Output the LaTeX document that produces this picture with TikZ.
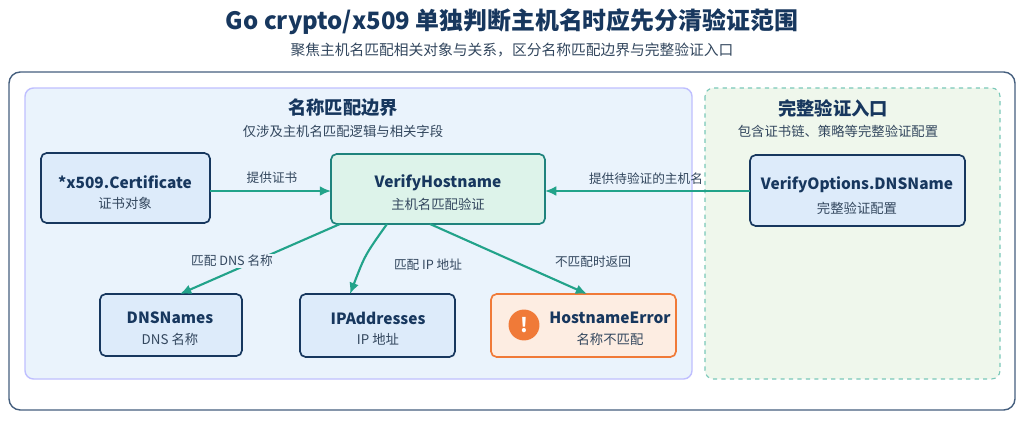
\documentclass[tikz,border=0pt]{standalone}
\usepackage{fontspec}
\setmainfont{Noto Sans CJK SC}
\usetikzlibrary{arrows.meta}
\definecolor{navy}{HTML}{17375E}
\definecolor{teal}{HTML}{22A38A}
\definecolor{panelblue}{HTML}{EAF3FC}
\definecolor{boxblue}{HTML}{DDEBFA}
\definecolor{boxgreen}{HTML}{DDF3EA}
\definecolor{panelgreen}{HTML}{EFF7EC}
\definecolor{orng}{HTML}{F07A38}
\definecolor{boxorng}{HTML}{FDEDE2}
\definecolor{txt}{HTML}{33475E}
\begin{document}
\begin{tikzpicture}[x=0.025cm,y=-0.025cm,
    box/.style={draw=navy,line width=1.2pt,rounded corners=4pt,fill=boxblue},
    flow/.style={-{Latex[length=8pt,width=7pt]},draw=teal,line width=1.5pt},
    lbl/.style={font=\fontsize{9}{11}\selectfont,text=txt},
    main/.style={font=\fontsize{11}{13}\selectfont\bfseries,text=navy},
    sub/.style={font=\fontsize{9.5}{11}\selectfont,text=txt}]
  \useasboundingbox (0,0) rectangle (1024,427);
  % title
  \node[font=\fontsize{17}{20}\selectfont\bfseries,text=navy] (title) at (512,22) {Go crypto/x509 单独判断主机名时应先分清验证范围};
  \node[font=\fontsize{10.5}{12}\selectfont,text=txt] (subtitle) at (512,50) {聚焦主机名匹配相关对象与关系，区分名称匹配边界与完整验证入口};
  % frames
  \draw[navy!80,line width=1pt,rounded corners=8pt,fill=white] (9,72) rectangle (1015,410);
  \draw[blue!25,line width=1pt,rounded corners=6pt,fill=panelblue] (25,88) rectangle (692,379);
  \draw[teal!60,line width=0.8pt,dashed,rounded corners=6pt,fill=panelgreen] (705,88) rectangle (1000,379);
  \node[font=\fontsize{13}{15}\selectfont\bfseries,text=navy] (lefttitle) at (343,108) {名称匹配边界};
  \node[sub] (leftsub) at (343,131) {仅涉及主机名匹配逻辑与相关字段};
  \node[font=\fontsize{13}{15}\selectfont\bfseries,text=navy] (righttitle) at (833,108) {完整验证入口};
  \node[sub] (rightsub) at (838,131) {包含证书链、策略等完整验证配置};
  % boxes
  \draw[box] (41,153) rectangle (210,223);
  \node[main] (certname) at (125,182) {*x509.Certificate};
  \node[sub] (certsub) at (125,203) {证书对象};
  \draw[box,fill=boxgreen,draw=teal!70!navy] (331,154) rectangle (545,224);
  \node[main] (vhname) at (438,183) {VerifyHostname};
  \node[sub] (vhsub) at (438,204) {主机名匹配验证};
  \draw[box] (750,155) rectangle (965,226);
  \node[main] (voname) at (857,185) {VerifyOptions.DNSName};
  \node[sub] (vosub) at (857,208) {完整验证配置};
  \draw[box] (100,294) rectangle (242,356);
  \node[main] (dnsname) at (170,318) {DNSNames};
  \node[sub] (dnssub) at (170,339) {DNS 名称};
  \draw[box] (300,294) rectangle (455,357);
  \node[main] (ipname) at (378,318) {IPAddresses};
  \node[sub] (ipsub) at (378,339) {IP 地址};
  \draw[box,draw=orng,fill=boxorng] (491,294) rectangle (676,357);
  \node[circle,fill=orng,text=white,minimum size=22pt,inner sep=0pt,font=\bfseries\fontsize{14}{14}\selectfont] (warn) at (524,325) {!};
  \node[main] (hename) at (610,318) {HostnameError};
  \node[sub] (hesub) at (610,339) {名称不匹配};
  % anchors
  \coordinate (certR) at (210,191);
  \coordinate (vhL) at (331,191);
  \coordinate (vhR) at (545,191);
  \coordinate (voL) at (750,191);
  \coordinate (vhB1) at (340,224);
  \coordinate (vhB2) at (387,224);
  \coordinate (vhB3) at (430,224);
  \coordinate (dnsT) at (180,294);
  \coordinate (ipT) at (350,294);
  \coordinate (heT) at (587,294);
  % connectors
  \draw[flow] (certR) -- (vhL);
  \node[lbl] (l1) at (272,178) {提供证书};
  \draw[flow] (voL) -- (vhR);
  \node[lbl] (l2) at (646,179) {提供待验证的主机名};
  \draw[flow] (vhB1) -- (dnsT);
  \node[lbl,fill=panelblue,inner sep=1pt] (l3) at (232,261) {匹配 DNS 名称};
  \draw[flow] (vhB2) .. controls (365,255) .. (ipT);
  \node[lbl] (l4) at (428,265) {匹配 IP 地址};
  \draw[flow] (vhB3) -- (heT);
  \node[lbl] (l5) at (593,262) {不匹配时返回};
\end{tikzpicture}
\end{document}
